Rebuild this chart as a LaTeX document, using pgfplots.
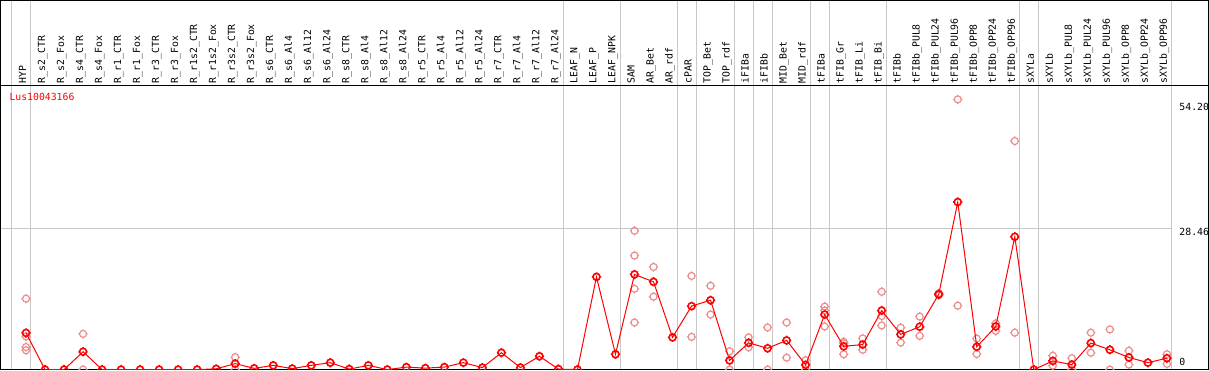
\documentclass[border=0pt]{standalone}
\usepackage{fontspec}
\setmonofont{DejaVu Sans Mono}
\usepackage{pgfplots}
\pgfplotsset{compat=1.18}
\definecolor{meanred}{RGB}{255,0,0}
\definecolor{repred}{RGB}{236,140,140}
\definecolor{gridgray}{RGB}{200,200,200}
\pgfdeclareplotmark{tcirc}{%
  \pgfpathcircle{\pgfpointorigin}{\pgfplotmarksize}%
  \pgfpathmoveto{\pgfpoint{0pt}{\pgfplotmarksize}}\pgfpathlineto{\pgfpoint{0pt}{\pgfplotmarksize+1.1pt}}%
  \pgfpathmoveto{\pgfpoint{0pt}{-\pgfplotmarksize}}\pgfpathlineto{\pgfpoint{0pt}{-\pgfplotmarksize-1.1pt}}%
  \pgfpathmoveto{\pgfpoint{\pgfplotmarksize}{0pt}}\pgfpathlineto{\pgfpoint{\pgfplotmarksize+1.1pt}{0pt}}%
  \pgfpathmoveto{\pgfpoint{-\pgfplotmarksize}{0pt}}\pgfpathlineto{\pgfpoint{-\pgfplotmarksize-1.1pt}{0pt}}%
  \pgfusepathqstroke}
\newcommand{\lblfont}{\ttfamily\fontsize{9.8}{10}\selectfont}
\begin{document}
\begin{tikzpicture}
\begin{axis}[
  scale only axis, width=1207pt, height=284pt,
  xmin=-1.342, xmax=62.184, ymin=0, ymax=57.33,
  axis line style={black, line width=1pt},
  xtick={0,...,60},
  xticklabels={HYP,R\_s2\_CTR,R\_s2\_Fox,R\_s4\_CTR,R\_s4\_Fox,R\_r1\_CTR,R\_r1\_Fox,R\_r3\_CTR,R\_r3\_Fox,R\_r1s2\_CTR,R\_r1s2\_Fox,R\_r3s2\_CTR,R\_r3s2\_Fox,R\_s6\_CTR,R\_s6\_Al4,R\_s6\_Al12,R\_s6\_Al24,R\_s8\_CTR,R\_s8\_Al4,R\_s8\_Al12,R\_s8\_Al24,R\_r5\_CTR,R\_r5\_Al4,R\_r5\_Al12,R\_r5\_Al24,R\_r7\_CTR,R\_r7\_Al4,R\_r7\_Al12,R\_r7\_Al24,LEAF\_N,LEAF\_P,LEAF\_NPK,SAM,AR\_Bet,AR\_rdf,cPAR,TOP\_Bet,TOP\_rdf,iFIBa,iFIBb,MID\_Bet,MID\_rdf,tFIBa,tFIB\_Gr,tFIB\_Li,tFIB\_Bi,tFIBb,tFIBb\_PUL8,tFIBb\_PUL24,tFIBb\_PUL96,tFIBb\_OPP8,tFIBb\_OPP24,tFIBb\_OPP96,sXYLa,sXYLb,sXYLb\_PUL8,sXYLb\_PUL24,sXYLb\_PUL96,sXYLb\_OPP8,sXYLb\_OPP24,sXYLb\_OPP96},
  xticklabel pos=upper,
  xticklabel style={rotate=90, anchor=base west, inner sep=2pt, font=\lblfont},
  ytick=\empty,
  major tick length=0pt,
  clip mode=individual, clip marker paths=true,
]
\pgfplotsinvokeforeach{-0.75,0.25,28.25,31.25,34.25,35.25,37.25,38.25,39.25,41.25,42.25,45.25,52.25,53.25,60.25}{
  \draw[gridgray, line width=1pt] (axis cs:#1,0) -- (axis cs:#1,74.45);
}
\draw[gridgray, line width=1pt] (axis cs:-1.342,28.46) -- (axis cs:60.25,28.46);
\draw[black, line width=1pt] (axis cs:-1.342,0) rectangle (axis cs:62.184,74.45);
\draw[black, line width=1pt] (axis cs:-1.342,57.33) -- (axis cs:62.184,57.33);

\addplot[only marks, repred, mark=tcirc, mark size=3.5pt, mark options={line width=1.2pt}] coordinates {
(0,14.3) (0,6.7) (0,4.55) (0,3.9)
(3,7.2) (3,0)
(11,2.5) (11,0)
(32,28.0) (32,23.0) (32,16.3) (32,9.5)
(33,20.7) (33,14.7)
(35,18.9) (35,6.6)
(36,16.9) (36,11.1)
(37,3.7) (37,0)
(38,6.5) (38,4.5)
(39,8.5) (39,0)
(40,9.5) (40,2.4)
(41,1.9) (41,0)
(42,12.7) (42,11.9) (42,8.7)
(43,5.6) (43,5.3) (43,3.1)
(44,6.3) (44,4.0)
(45,15.7) (45,10.8) (45,8.9)
(46,8.45) (46,5.45)
(47,10.7) (47,6.8)
(48,15.4) (48,15.0)
(49,54.5) (49,12.9)
(50,6.25) (50,3.15)
(51,9.3) (51,7.8)
(52,46.1) (52,7.45)
(54,2.8) (54,0.8)
(55,2.3) (55,0)
(56,7.45) (56,3.4)
(57,8.1) (57,0)
(58,3.8) (58,1.0)
(60,3.1) (60,1.15)
};

\addplot[meanred, line width=1pt, mark=tcirc, mark size=3.5pt, mark options={line width=1.6pt, solid}] coordinates {
(0,7.4) (1,0) (2,0) (3,3.6) (4,0) (5,0) (6,0) (7,0) (8,0) (9,0)
(10,0.15) (11,1.2) (12,0.25) (13,0.85) (14,0.2) (15,0.85) (16,1.4) (17,0.1) (18,0.85) (19,0)
(20,0.5) (21,0.3) (22,0.5) (23,1.4) (24,0.4) (25,3.4) (26,0.4) (27,2.7) (28,0.1) (29,0)
(30,18.7) (31,3.1) (32,19.2) (33,17.7) (34,6.5) (35,12.8) (36,14.0) (37,1.85) (38,5.4) (39,4.3)
(40,5.9) (41,0.95) (42,11.1) (43,4.7) (44,5.05) (45,11.9) (46,7.1) (47,8.65) (48,15.2) (49,33.8)
(50,4.6) (51,8.7) (52,26.8) (53,0) (54,1.75) (55,1.0) (56,5.35) (57,4.0) (58,2.45) (59,1.4)
(60,2.3)
};

\node[anchor=base west, inner sep=0pt, font=\lblfont, text=meanred] at (axis cs:-0.879,54.2) {Lus10043166};
\node[anchor=base west, inner sep=0pt, font=\lblfont] at (axis cs:60.65,52.18) {54.20};
\node[anchor=base west, inner sep=0pt, font=\lblfont] at (axis cs:60.65,26.95) {28.46};
\node[anchor=base west, inner sep=0pt, font=\lblfont] at (axis cs:60.65,0.83) {0};
\end{axis}
\end{tikzpicture}
\end{document}
